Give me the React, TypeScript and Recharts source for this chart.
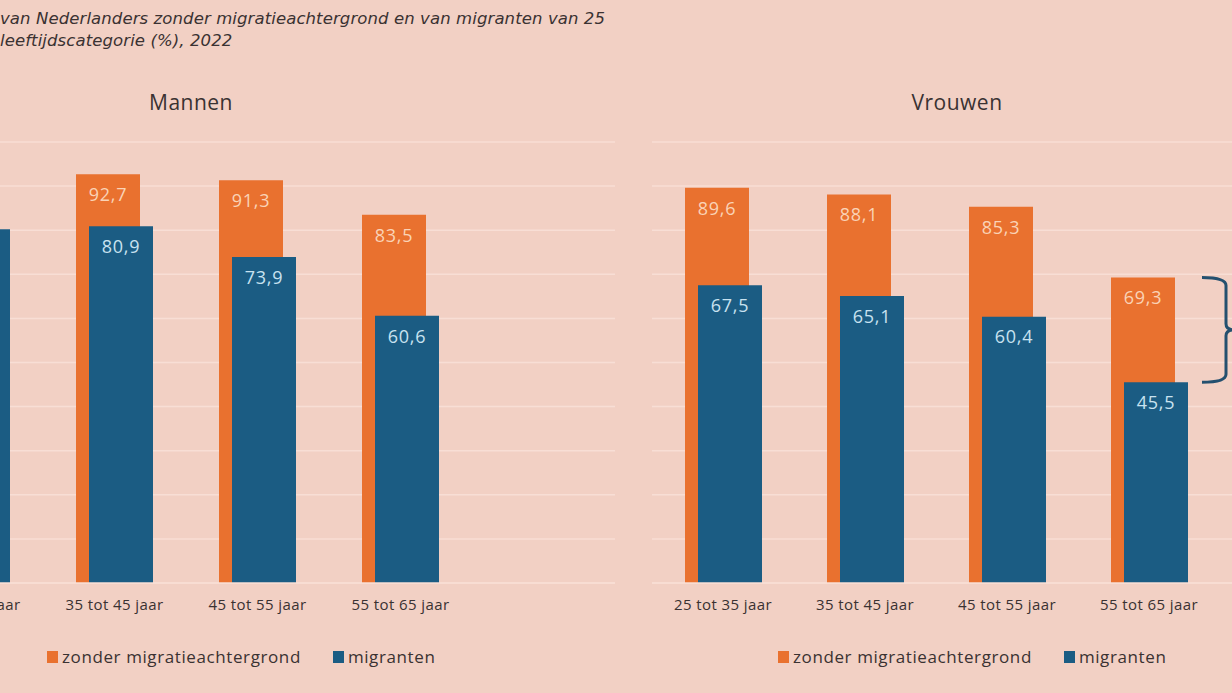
import React from "react";
import { BarChart, Bar, XAxis, YAxis, CartesianGrid, LabelList, ReferenceArea } from "recharts";

const categories = ["25 tot 35 jaar", "35 tot 45 jaar", "45 tot 55 jaar", "55 tot 65 jaar"];
const mannenZonder = [91.0, 92.7, 91.3, 83.5];
const mannenMigranten = [80.2, 80.9, 73.9, 60.6];
const vrouwenZonder = [89.6, 88.1, 85.3, 69.3];
const vrouwenMigranten = [67.5, 65.1, 60.4, 45.5];
const yTicks = [0, 10, 20, 30, 40, 50, 60, 70, 80, 90, 100];
const seriesNames = ["zonder migratieachtergrond", "migranten"];
const titleLines = [
  "van Nederlanders zonder migratieachtergrond en van migranten van 25",
  "leeftijdscategorie (%), 2022",
];

const BG = "#F2D0C4";
const ORANGE = "#E9712F";
const BLUE = "#1B5C83";
const GRID = "#F8DED5";
const FONT = "'Open Sans', sans-serif";
const TEXT = "#3A3232";

const build = (a: number[], b: number[]) =>
  categories.map((c, i) => ({ cat: c, zonder: a[i], migranten: b[i] }));

const mannenData = build(mannenZonder, mannenMigranten);
const vrouwenData = build(vrouwenZonder, vrouwenMigranten);

const fmt = (v: any) => Number(v).toFixed(1).replace(".", ",");

const Brace = (props: any) => {
  const { x, y, width, height } = props;
  const r = x + width;
  const vx = r + 6;
  const mid = y + height / 2;
  const d = `M ${r - 18} ${y} Q ${vx} ${y} ${vx} ${y + 8} L ${vx} ${mid - 6} Q ${vx} ${mid} ${vx + 8} ${mid} Q ${vx} ${mid} ${vx} ${mid + 6} L ${vx} ${y + height - 8} Q ${vx} ${y + height} ${r - 18} ${y + height}`;
  return <path d={d} fill="none" stroke="#24506F" strokeWidth={3} />;
};

const labelStyle = { letterSpacing: "0.8px" };

const Panel = ({ data, left, width, padRight, brace }: any) => (
  <div style={{ position: "absolute", left, top: 0 }}>
    <BarChart
      width={width}
      height={630}
      data={data}
      margin={{ top: 142, right: 0, bottom: 0, left: 0 }}
      barSize={64}
      barGap={-51}
    >
      <CartesianGrid vertical={false} stroke={GRID} strokeWidth={1.5} />
      <XAxis
        dataKey="cat"
        tickLine={false}
        axisLine={{ stroke: GRID, strokeWidth: 1.5 }}
        padding={{ left: 0, right: padRight }}
        tick={{ fill: TEXT, fontSize: 15, fontFamily: FONT, style: { letterSpacing: "0.4px" } }}
        tickMargin={10}
        height={47}
        interval={0}
      />
      <YAxis hide domain={[0, 100]} ticks={yTicks} />
      <Bar dataKey="zonder" fill={ORANGE} isAnimationActive={false}>
        <LabelList
          dataKey="zonder"
          position="insideTop"
          offset={14}
          formatter={fmt}
          fill="#FAD3B6"
          fontSize={18}
          fontFamily={FONT}
          fontWeight={500}
          style={labelStyle}
        />
      </Bar>
      <Bar dataKey="migranten" fill={BLUE} isAnimationActive={false}>
        <LabelList
          dataKey="migranten"
          position="insideTop"
          offset={14}
          formatter={fmt}
          fill="#C8E2F0"
          fontSize={18}
          fontFamily={FONT}
          fontWeight={500}
          style={labelStyle}
        />
      </Bar>
      {brace ? (
        <ReferenceArea
          x1={categories[3]}
          x2={categories[3]}
          y1={brace[0]}
          y2={brace[1]}
          ifOverflow="visible"
          shape={<Brace />}
        />
      ) : null}
    </BarChart>
  </div>
);

const Legend = ({ left }: any) => (
  <div
    style={{
      position: "absolute",
      left,
      top: 645,
      display: "flex",
      alignItems: "center",
      fontFamily: FONT,
      fontSize: 17,
      letterSpacing: "0.6px",
      color: TEXT,
      whiteSpace: "nowrap",
    }}
  >
    {seriesNames.map((n, i) => (
      <div key={n} style={{ display: "flex", alignItems: "center", marginRight: i === 0 ? 32 : 0 }}>
        <span
          style={{
            display: "inline-block",
            width: 11,
            height: 12,
            background: i === 0 ? ORANGE : BLUE,
            marginRight: 4,
          }}
        />
        <span>{n}</span>
      </div>
    ))}
  </div>
);

export default function App() {
  return (
    <div
      style={{
        position: "absolute",
        left: 0,
        top: 0,
        width: 1232,
        height: 693,
        overflow: "hidden",
        background: BG,
        fontFamily: FONT,
      }}
    >
      <div
        style={{
          position: "absolute",
          left: 0,
          top: 8,
          fontFamily: "'DejaVu Sans', sans-serif",
          fontStyle: "italic",
          fontSize: 16.5,
          letterSpacing: "0.1px",
          lineHeight: "22px",
          color: TEXT,
          whiteSpace: "nowrap",
        }}
      >
        {titleLines.map((l) => (
          <div key={l}>{l}</div>
        ))}
      </div>
      <div style={{ position: "absolute", left: 91, width: 200, top: 88, textAlign: "center", fontSize: 21, fontWeight: 500, letterSpacing: "0.5px", color: TEXT }}>
        Mannen
      </div>
      <div style={{ position: "absolute", left: 857, width: 200, top: 88, textAlign: "center", fontSize: 21, fontWeight: 500, letterSpacing: "0.5px", color: TEXT }}>
        Vrouwen
      </div>
      <Panel data={mannenData} left={-100} width={715} padRight={143} />
      <Panel data={vrouwenData} left={652} width={648} padRight={80} brace={[45.5, 69.3]} />
      <Legend left={47} />
      <Legend left={778} />
    </div>
  );
}
